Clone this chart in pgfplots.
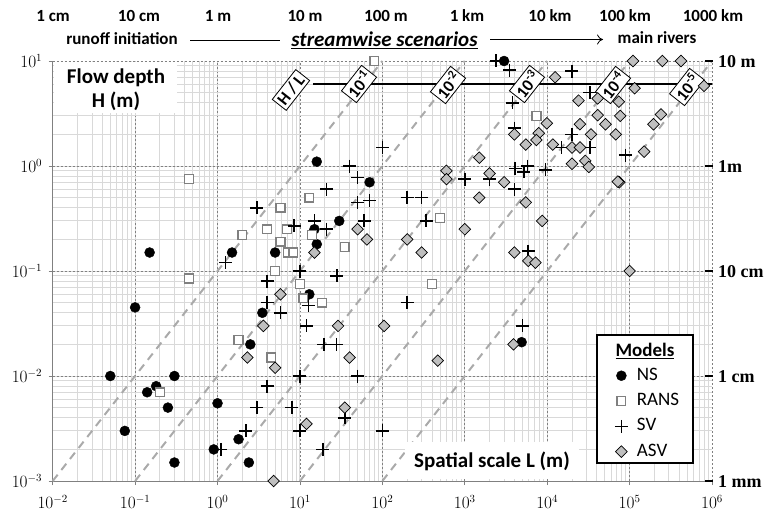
\documentclass[border=0pt]{standalone}
\usepackage{pgfplots}
\pgfplotsset{compat=1.18}
\usepackage{fontspec}
\setmainfont{Carlito}
\newfontfamily\timesfont{Liberation Serif}
\usetikzlibrary{arrows.meta}
\definecolor{mgray}{RGB}{128,128,128}
\definecolor{lgray}{RGB}{217,217,217}
\definecolor{dgray}{RGB}{170,170,170}
\definecolor{dfill}{RGB}{191,191,191}
\newcommand\tl{\fontsize{17}{20}\selectfont\bfseries}
\newcommand\rl{\fontsize{18}{21}\selectfont\timesfont\bfseries}
\begin{document}
\begin{tikzpicture}
\path[use as bounding box] (0,0) rectangle (767pt,514pt);
\begin{axis}[
  at={(52.7pt,33pt)}, anchor=south west,
  width=659.3pt, height=420pt, scale only axis,
  xmode=log, ymode=log, xmin=1e-2, xmax=1e6, ymin=1e-3, ymax=1e1,
  xtick={1e-2,1e-1,1,1e1,1e2,1e3,1e4,1e5,1e6},
  ytick={1e-3,1e-2,1e-1,1,1e1},
  grid=both,
  major grid style={dash pattern=on 2pt off 2pt, draw=mgray, line width=0.6pt},
  minor grid style={draw=lgray, line width=0.9pt},
  axis x line*=bottom, axis y line*=left,
  axis line style={draw=mgray, line width=1pt, -},
  tick align=outside, major tick length=4pt, minor tick length=0pt,
  tick style={draw=mgray, line width=0.8pt},
  ticklabel style={font=\fontsize{16}{19}\selectfont},
  xticklabel style={yshift=-7pt},
  yticklabel style={xshift=-3pt},
  clip=false,
  legend image code/.code={\draw[mark repeat=2,mark phase=2,#1] plot coordinates {(0pt,0pt) (6pt,0pt) (12pt,0pt)};},
  legend style={at={(rel axis cs:0.8524,0.2714)}, anchor=north west, draw=none, fill=none, inner sep=0pt,
    font=\fontsize{19}{22}\selectfont, row sep=8.3pt, column sep=9pt,
    nodes={inner sep=0pt, text height=13pt, text depth=4pt}},
  legend cell align=left,
]
% H/L reference lines
\addplot[dgray, line width=2pt, dash pattern=on 8pt off 6pt, forget plot] coordinates {(1e-2,1e-3) (1e2,1e1)};
\addplot[dgray, line width=2pt, dash pattern=on 8pt off 6pt, forget plot] coordinates {(1e-1,1e-3) (1e3,1e1)};
\addplot[dgray, line width=2pt, dash pattern=on 8pt off 6pt, forget plot] coordinates {(1e0,1e-3) (1e4,1e1)};
\addplot[dgray, line width=2pt, dash pattern=on 8pt off 6pt, forget plot] coordinates {(1e1,1e-3) (1e5,1e1)};
\addplot[dgray, line width=2pt, dash pattern=on 8pt off 6pt, forget plot] coordinates {(1e2,1e-3) (1e6,1e1)};
\draw[black, line width=1.2pt] (rel axis cs:0.3948,0.9452) -- (rel axis cs:1,0.9452);
\tikzset{hl/.style={draw=black, line width=0.8pt, fill=white, rotate=51.8, inner sep=2.5pt, font=\fontsize{17}{20}\selectfont\bfseries}}
\node[hl] at (rel axis cs:0.3614,0.9310) {H / L};
\node[hl] at (rel axis cs:0.4646,0.9452) {10\textsuperscript{-1}};
\node[hl] at (rel axis cs:0.5996,0.9429) {10\textsuperscript{-2}};
\node[hl] at (rel axis cs:0.7194,0.9452) {10\textsuperscript{-3}};
\node[hl] at (rel axis cs:0.8499,0.9429) {10\textsuperscript{-4}};
\node[hl] at (rel axis cs:0.9622,0.9381) {10\textsuperscript{-5}};
% NS
\addplot[only marks, mark=*, mark size=5pt, black] coordinates {
(0.15,0.15) (1.5,0.15) (5,0.15) (0.1,0.045) (0.05,0.01) (0.3,0.01) (0.14,0.007) (0.18,0.008)
(0.25,0.005) (0.075,0.003) (0.3,0.0015) (1,0.0055) (0.9,0.002) (1.8,0.0025) (2.4,0.0015)
(2.5,0.02) (3.5,0.04) (16,1.1) (70,0.7) (30,0.3) (15,0.25) (16,0.18) (13,0.06) (3000,10) (4900,0.021)};
\addlegendentry{NS}
% RANS
\addplot[only marks, mark=square*, mark size=4.4pt, mark options={fill=white, draw=mgray, line width=1.4pt}] coordinates {
(0.45,0.75) (2,0.22) (4,0.25) (5.8,0.4) (5.8,0.19) (0.45,0.085) (5,0.1) (0.2,0.007) (1.8,0.022)
(4.5,0.015) (13,0.5) (7,0.25) (14,0.22) (7.2,0.15) (8.3,0.15) (35,0.17) (10,0.075) (11,0.055)
(18.5,0.05) (500,0.32) (400,0.075) (80,10) (7400,3)};
\addlegendentry{RANS}
% SV
\addplot[only marks, mark=+, mark size=6.5pt, black, mark options={line width=1.6pt}] coordinates {
(3,0.4) (1.25,0.12) (4,0.08) (1.1,0.002) (2.2,0.003) (3,0.005) (4,0.008) (4,0.05) (5.8,0.04)
(8,0.005) (10,0.003) (35,0.004) (100,0.003) (19,0.002) (100,1.5) (40,1.0) (50,0.78) (21,0.6)
(50,0.45) (70,0.47) (200,0.5) (300,0.5) (15,0.3) (60,0.3) (8.5,0.27) (21,0.25) (10,0.1) (28,0.09)
(340,0.3) (12.7,0.047) (12,0.03) (200,0.05) (19.5,0.02) (27.7,0.02) (50,0.01) (10,0.01)
(2400,10) (3500,8.2) (20000,8) (3800,4) (33000,5) (20000,2) (4000,2.3) (15000,1.5) (33000,1.5)
(89000,1.27) (4100,0.95) (5800,1.0) (5200,0.88) (9500,0.92) (1000,0.75) (2000,0.75) (4000,0.6)
(5900,0.155) (5000,0.03)};
\addlegendentry{SV}
% ASV
\addplot[only marks, mark=square*, mark size=4.1pt, mark options={rotate=45, fill=dfill, draw=black, line width=0.7pt}] coordinates {
(2.3,0.015) (3.6,0.03) (5,0.012) (5.8,0.06) (4.8,0.001) (35,0.005) (12,0.0035) (50,0.25) (65,0.2)
(15,0.15) (200,0.2) (300,0.15) (1000,0.25) (1500,0.5) (1500,1.2) (600,0.9) (600,0.75) (2000,0.85)
(29,0.03) (105,0.03) (40,0.015) (470,0.014) (12500,7) (110000,10) (250000,10) (420000,10)
(115000,5.5) (800000,5.8) (24000,4.2) (41000,4.4) (74000,4.1) (41000,3.05) (77000,3) (51000,2.5)
(68000,2) (25000,2.5) (34000,2.0) (240000,3.1) (195000,2.5) (4000,2.0) (9900,2.55) (7900,2.05)
(7400,1.77) (5500,1.6) (11700,1.6) (20000,1.5) (25000,1.5) (150000,1.37) (20000,1.05) (29000,1.12)
(32000,0.98) (3000,0.7) (75000,0.7) (72000,0.71) (5500,0.45) (8700,0.3) (4000,0.15) (5900,0.125)
(7200,0.12) (100000,0.1) (3900,0.02)};
\addlegendentry{ASV}
% legend frame and title
\draw[black, line width=1.2pt, fill=white] (rel axis cs:0.8256,0.3476) rectangle (rel axis cs:0.9712,0.0429);
\node[font=\fontsize{19}{22}\selectfont\bfseries] at (rel axis cs:0.8984,0.3095) {\underline{Models}};
\end{axis}
\begin{scope}[x=1pt, y=-1pt, yshift=514pt]
% white label boxes
\fill[white] (54,62) rectangle (177,113);
\node[font=\fontsize{21}{24}\selectfont\bfseries, anchor=base, inner sep=0pt] at (116,83.5) {Flow depth};
\node[font=\fontsize{21}{24}\selectfont\bfseries, anchor=base, inner sep=0pt] at (116,108) {H (m)};
\fill[white] (405,442) rectangle (579,479);
\node[font=\fontsize{21}{24}\selectfont\bfseries, anchor=base, inner sep=0pt] at (492,467) {Spatial scale L (m)};
% top scale
\foreach \xx/\tt in {53/1 cm, 139/10 cm, 218/1 m, 305/10 m, 386/100 m, 467/1 km, 550/10 km, 625/100 km, 713/1000 km}
  \node[font=\tl, anchor=base, inner sep=0pt] at (\xx,21.7) {\tt};
\node[font=\tl, anchor=base, inner sep=0pt] at (122,45) {runoff initiation};
\draw[line width=0.8pt] (190,40) -- (280,40);
\node[font=\fontsize{21}{24}\selectfont\bfseries\itshape, anchor=base, inner sep=0pt] at (384.5,46.7) {\underline{streamwise scenarios}};
\draw[line width=0.8pt, -{To[length=6pt,width=10pt]}] (490,39.5) -- (603,39.5);
\node[font=\tl, anchor=base, inner sep=0pt] at (657,44) {main rivers};
% right depth labels
\foreach \yy/\tt in {61/10 m, 166/1m, 271/10 cm, 376/1 cm, 481/1 mm} {
  \draw[line width=1.5pt] (705,\yy) -- (713,\yy);
  \node[font=\rl, anchor=base west, inner sep=0pt] at (718,\yy+6.5) {\tt};
}
\end{scope}
\end{tikzpicture}
\end{document}
